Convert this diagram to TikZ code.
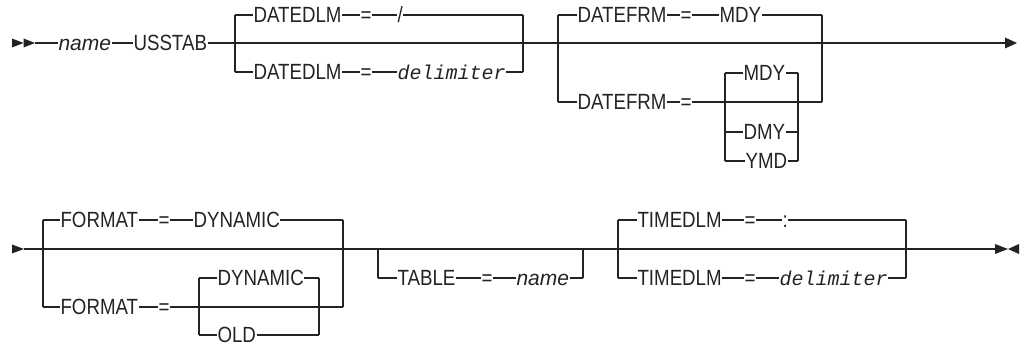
\documentclass[tikz,border=0pt]{standalone}
\usepackage{fontspec}
\setmainfont{Liberation Sans}[FakeStretch=0.85]
\newfontfamily\rrsans{Liberation Sans}
\newfontfamily\rrmono{Liberation Mono}
\usetikzlibrary{positioning}
\definecolor{rrink}{RGB}{35,35,35}

\begin{document}
\begin{tikzpicture}[x=1pt,y=-1pt,line width=1.1pt,color=rrink,
  kw/.style={inner sep=0pt,anchor=west,text height=15.5pt,text depth=0pt,
    font=\fontsize{22}{26}\selectfont},
  var/.style={kw,font=\fontsize{21}{25}\selectfont\rrsans\itshape},
  mvar/.style={kw,font=\fontsize{20}{24}\selectfont\rrmono\itshape}
]
  \useasboundingbox (0,0) rectangle (1022,347);

  % Row 1: start, name, USSTAB
  \fill (12,38.5) -- (23.5,43) -- (12,47.5) -- cycle;
  \fill (23.5,38.5) -- (35,43) -- (23.5,47.5) -- cycle;
  \coordinate (start1) at (35,43);
  \coordinate (end1) at (1005,43);
  \node[var] (nm) at (58,43) {name};
  \node[kw] (usstab) at (133,43) {USSTAB};
  \draw (start1) -- (nm) -- (usstab);
  \draw (usstab) -- (end1);
  \fill (1005,37.5) -- (1017,43) -- (1005,48.5) -- cycle;

  % DATEDLM choice
  \coordinate (dlA) at (235,15);
  \coordinate (dlB) at (235,72);
  \coordinate (dlC) at (523,15);
  \coordinate (dlD) at (523,72);
  \draw (dlA) -- (dlB);
  \draw (dlC) -- (dlD);
  \node[kw] (dl1) at (253,15) {DATEDLM};
  \node[kw] (dleq1) at (360,15) {=};
  \node[kw] (slash) at (397,15) {/};
  \draw (dlA) -- (dl1) -- (dleq1) -- (slash) -- (dlC);
  \node[kw] (dl2) at (253,72) {DATEDLM};
  \node[kw] (dleq2) at (360,72) {=};
  \node[mvar] (dlvar) at (397,72) {delimiter};
  \draw (dlB) -- (dl2) -- (dleq2) -- (dlvar) -- (dlD);

  % DATEFRM choice
  \coordinate (dfA) at (558,15);
  \coordinate (dfB) at (558,102);
  \coordinate (dfC) at (822,15);
  \coordinate (dfD) at (822,102);
  \draw (dfA) -- (dfB);
  \draw (dfC) -- (dfD);
  \node[kw] (df1) at (577,15) {DATEFRM};
  \node[kw] (dfeq1) at (680,15) {=};
  \node[kw] (mdy1) at (719,15) {MDY};
  \draw (dfA) -- (df1) -- (dfeq1) -- (mdy1) -- (dfC);
  \node[kw] (df2) at (577,102) {DATEFRM};
  \node[kw] (dfeq2) at (680,102) {=};
  \draw (dfB) -- (df2) -- (dfeq2) -- (dfD);
  % date orders
  \coordinate (ordA) at (725,73);
  \coordinate (ordB) at (725,161);
  \coordinate (ordC) at (798,73);
  \coordinate (ordD) at (798,161);
  \draw (ordA) -- (ordB);
  \draw (ordC) -- (ordD);
  \node[kw] (mdy2) at (743,73) {MDY};
  \node[kw] (dmy) at (743,132) {DMY};
  \node[kw] (ymd) at (745,161) {YMD};
  \draw (ordA) -- (mdy2) -- (ordC);
  \draw (ordA |- dmy) -- (dmy) -- (ordC |- dmy);
  \draw (ordB) -- (ymd) -- (ordD);

  % Row 2: continuation and end
  \fill (12,244.5) -- (24,249) -- (12,253.5) -- cycle;
  \coordinate (start2) at (24,249);
  \coordinate (end2) at (995,249);
  \draw (start2) -- (end2);
  \coordinate (tk1) at (912,249);
  \coordinate (tk2) at (935,249);
  \draw[line width=2.2pt] (tk1) -- (tk2);
  \fill (995,244) -- (1008,249) -- (995,254) -- cycle;
  \fill (1019,244) -- (1008,249) -- (1019,254) -- cycle;

  % FORMAT choice
  \coordinate (fmA) at (43,220);
  \coordinate (fmB) at (43,307);
  \coordinate (fmC) at (343,220);
  \coordinate (fmD) at (343,307);
  \draw (fmA) -- (fmB);
  \draw (fmC) -- (fmD);
  \node[kw] (fm1) at (60,220) {FORMAT};
  \node[kw] (fmeq1) at (158,220) {=};
  \node[kw] (dyn1) at (193,220) {DYNAMIC};
  \draw (fmA) -- (fm1) -- (fmeq1) -- (dyn1) -- (fmC);
  \node[kw] (fm2) at (60,307) {FORMAT};
  \node[kw] (fmeq2) at (158,307) {=};
  \draw (fmB) -- (fm2) -- (fmeq2) -- (fmD);
  % format values
  \coordinate (fsA) at (199,278);
  \coordinate (fsB) at (199,335);
  \coordinate (fsC) at (319,278);
  \coordinate (fsD) at (319,335);
  \draw (fsA) -- (fsB);
  \draw (fsC) -- (fsD);
  \node[kw] (dyn2) at (217,278) {DYNAMIC};
  \node[kw] (old) at (217,335) {OLD};
  \draw (fsA) -- (dyn2) -- (fsC);
  \draw (fsB) -- (old) -- (fsD);

  % optional TABLE
  \coordinate (tbA) at (378,249);
  \coordinate (tbB) at (378,278);
  \coordinate (tbC) at (583,249);
  \coordinate (tbD) at (583,278);
  \draw (tbA) -- (tbB);
  \draw (tbC) -- (tbD);
  \node[kw] (tbl) at (397,278) {TABLE};
  \node[kw] (tbeq) at (481,278) {=};
  \node[var] (tbvar) at (516,278) {name};
  \draw (tbB) -- (tbl) -- (tbeq) -- (tbvar) -- (tbD);

  % TIMEDLM choice
  \coordinate (tdA) at (618,220);
  \coordinate (tdB) at (618,278);
  \coordinate (tdC) at (906,220);
  \coordinate (tdD) at (906,278);
  \draw (tdA) -- (tdB);
  \draw (tdC) -- (tdD);
  \node[kw] (td1) at (637,220) {TIMEDLM};
  \node[kw] (tdeq1) at (744,220) {=};
  \node[kw] (colon) at (782,220) {:};
  \draw (tdA) -- (td1) -- (tdeq1) -- (colon) -- (tdC);
  \node[kw] (td2) at (637,278) {TIMEDLM};
  \node[kw] (tdeq2) at (744,278) {=};
  \node[mvar] (tdvar) at (779,278) {delimiter};
  \draw (tdB) -- (td2) -- (tdeq2) -- (tdvar) -- (tdD);
\end{tikzpicture}
\end{document}
